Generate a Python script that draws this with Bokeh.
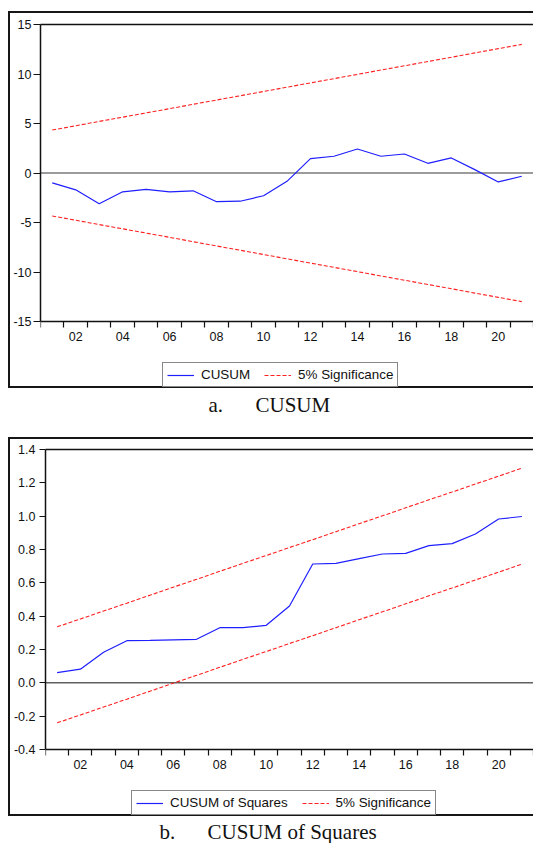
from bokeh.plotting import figure
from bokeh.models import FixedTicker, Span, Legend, LegendItem, LinearAxis, Label, Spacer
from bokeh.layouts import column, row
from bokeh.embed import file_html
from bokeh.resources import INLINE

# ---------------- data ----------------
years = [2001, 2002, 2003, 2004, 2005, 2006, 2007, 2008, 2009, 2010, 2011,
         2012, 2013, 2014, 2015, 2016, 2017, 2018, 2019, 2020, 2021]
x_tick_years = [2002, 2004, 2006, 2008, 2010, 2012, 2014, 2016, 2018, 2020]
x_tick_labels = ["02", "04", "06", "08", "10", "12", "14", "16", "18", "20"]
x_boundaries = [2000.5, 2001.5, 2002.5, 2003.5, 2004.5, 2005.5, 2006.5, 2007.5,
                2008.5, 2009.5, 2010.5, 2011.5, 2012.5, 2013.5, 2014.5, 2015.5,
                2016.5, 2017.5, 2018.5, 2019.5, 2020.5, 2021.5]

cusum = [-1.0, -1.7, -3.1, -1.9, -1.65, -1.9, -1.8, -2.9, -2.85, -2.3, -0.84,
         1.45, 1.69, 2.42, 1.69, 1.92, 0.98, 1.52, 0.34, -0.9, -0.33]
cusum_upper = [4.34, 4.77, 5.21, 5.64, 6.07, 6.50, 6.94, 7.37, 7.80, 8.23, 8.67,
               9.10, 9.53, 9.96, 10.40, 10.83, 11.26, 11.69, 12.13, 12.56, 12.99]
cusum_lower = [-4.34, -4.77, -5.21, -5.64, -6.07, -6.50, -6.94, -7.37, -7.80, -8.23, -8.67,
               -9.10, -9.53, -9.96, -10.40, -10.83, -11.26, -11.69, -12.13, -12.56, -12.99]
cusum_y_ticks = [-15, -10, -5, 0, 5, 10, 15]
cusum_y_labels = ["-15", "-10", "-5", "0", "5", "10", "15"]

cusumsq = [0.061, 0.082, 0.183, 0.253, 0.255, 0.258, 0.261, 0.331, 0.331, 0.345, 0.461,
           0.713, 0.717, 0.745, 0.773, 0.777, 0.823, 0.835, 0.893, 0.983, 0.998]
cusumsq_upper = [0.336, 0.383, 0.431, 0.478, 0.526, 0.574, 0.621, 0.669, 0.717, 0.764, 0.812,
                 0.859, 0.907, 0.955, 1.002, 1.050, 1.098, 1.145, 1.193, 1.240, 1.288]
cusumsq_lower = [-0.240, -0.193, -0.145, -0.098, -0.050, -0.002, 0.045, 0.093, 0.141, 0.188, 0.236,
                 0.283, 0.331, 0.379, 0.426, 0.474, 0.522, 0.569, 0.617, 0.664, 0.712]
sq_y_ticks = [-0.4, -0.2, 0.0, 0.2, 0.4, 0.6, 0.8, 1.0, 1.2, 1.4]
sq_y_labels = ["-0.4", "-0.2", "0.0", "0.2", "0.4", "0.6", "0.8", "1.0", "1.2", "1.4"]

# ---------------- style ----------------
SANS = "Liberation Sans"
SERIF = "Liberation Serif"
BORDER = "2px solid #161616"
BLUE = "#1f1fff"
RED = "#ff2020"


def make_panel(height, min_left, min_top, data_px, extra_px, y_lo, y_hi, y_ticks, y_labels,
               y_tick_out, y_standoff, series, upper, lower, series_label,
               zero_color, zero_width, legend_x, legend_y):
    # the frame continues below the data area so that the axis labels and the
    # legend live inside it (y_lo sits data_px below the top, extra_px above the bottom)
    y_start = y_lo - extra_px * (y_hi - y_lo) / data_px
    p = figure(width=525, height=height, x_range=(2000.5, 2021.5), y_range=(y_start, y_hi),
               x_axis_type=None, y_axis_type=None, output_backend="svg",
               toolbar_location=None, min_border_left=min_left, min_border_right=2,
               min_border_top=min_top, min_border_bottom=0,
               outline_line_color=None, background_fill_color="white",
               border_fill_color="white",
               styles={"border-left": BORDER, "border-top": BORDER, "border-bottom": BORDER})

    yaxis = LinearAxis(ticker=FixedTicker(ticks=y_ticks, minor_ticks=[]),
                       major_label_overrides=dict(zip(y_ticks, y_labels)),
                       bounds=(y_lo, y_hi),
                       major_tick_out=y_tick_out, major_tick_in=0, minor_tick_out=0, minor_tick_in=0,
                       major_label_standoff=y_standoff, axis_line_color="#111", axis_line_width=1.5,
                       major_tick_line_color="#111", major_tick_line_width=1.2,
                       major_label_text_font=SANS, major_label_text_font_size="12.5px",
                       major_label_text_color="#111")
    p.add_layout(yaxis, "left")

    xaxis = LinearAxis(ticker=FixedTicker(ticks=x_tick_years, minor_ticks=x_boundaries),
                       major_label_overrides=dict(zip(x_tick_years, x_tick_labels)),
                       fixed_location=y_lo,
                       major_tick_out=0, major_tick_in=0, minor_tick_out=6, minor_tick_in=0,
                       major_label_standoff=4, axis_line_color="#111", axis_line_width=1.5,
                       minor_tick_line_color="#111", minor_tick_line_width=1.2,
                       major_label_text_font=SANS, major_label_text_font_size="12.5px",
                       major_label_text_color="#111")
    p.add_layout(xaxis, "below")

    top_axis = LinearAxis(ticker=FixedTicker(ticks=[], minor_ticks=[]),
                          major_tick_out=0, major_tick_in=0, minor_tick_out=0, minor_tick_in=0,
                          major_label_standoff=0, major_label_text_font_size="0px",
                          axis_line_color="#111", axis_line_width=1.5)
    p.add_layout(top_axis, "above")

    p.add_layout(Span(location=0, dimension="width", line_color=zero_color,
                      line_width=zero_width, level="underlay"))

    r_series = p.line(years, series, line_color=BLUE, line_width=1.2)
    r_up = p.line(years, upper, line_color=RED, line_width=1.1, line_dash="4 2")
    p.line(years, lower, line_color=RED, line_width=1.1, line_dash="4 2")

    legend = Legend(items=[LegendItem(label=series_label, renderers=[r_series]),
                           LegendItem(label="5% Significance", renderers=[r_up])],
                    orientation="horizontal", location=(legend_x, legend_y),
                    label_text_font=SANS, label_text_font_size="13.4px",
                    label_text_color="#111",
                    glyph_width=27, glyph_height=12, label_height=12,
                    label_standoff=7, spacing=14, padding=4, margin=0,
                    border_line_color="#111", border_line_width=1,
                    background_fill_color="white", background_fill_alpha=1)
    p.add_layout(legend, "center")
    return p


def make_caption(height, prefix, prefix_x, title, title_x, baseline_y):
    c = figure(width=525, height=height, x_range=(0, 1), y_range=(0, 1),
               x_axis_type=None, y_axis_type=None, output_backend="svg",
               toolbar_location=None, min_border=0, min_border_left=0,
               min_border_right=0, min_border_top=0, min_border_bottom=0,
               outline_line_color=None)
    for txt, xx in ((prefix, prefix_x), (title, title_x)):
        c.add_layout(Label(x=xx, y=baseline_y, x_units="screen", y_units="screen",
                           text=txt, text_font=SERIF, text_font_size="21px",
                           text_color="#111", text_baseline="alphabetic"))
    return c


p1 = make_panel(377, 30, 11, 297, 69, -15, 15, cusum_y_ticks, cusum_y_labels, 7, 2,
                cusum, cusum_upper, cusum_lower, "CUSUM", "#7a7a7a", 1.6, 122, 3)
cap1 = make_caption(49, "a.", 200, "CUSUM", 247, 33)
p2 = make_panel(379, 34, 10, 300, 69, -0.4, 1.4, sq_y_ticks, sq_y_labels, 6, 4,
                cusumsq, cusumsq_upper, cusumsq_lower, "CUSUM of Squares", "#111", 1.0, 86, 3)
cap2 = make_caption(27, "b.", 151, "CUSUM of Squares", 199, 12)


def shifted(item):
    return row(Spacer(width=8, height=item.height), item, spacing=0)


layout = column(Spacer(width=533, height=11), shifted(p1), shifted(cap1),
                shifted(p2), shifted(cap2), spacing=0)

with open("out.html", "w") as f:
    f.write(file_html(layout, INLINE))
